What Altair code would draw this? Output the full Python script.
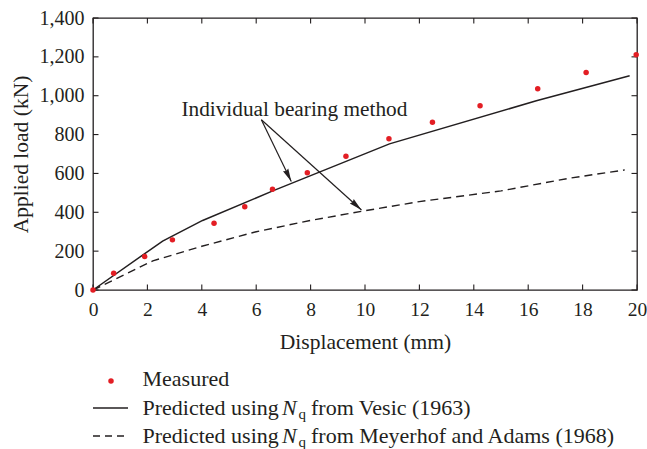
import math
import altair as alt
import pandas as pd

# ---------------- data ----------------
measured_x = [0, 0.76, 1.9, 2.92, 4.45, 5.58, 6.6, 7.88, 9.3, 10.88, 12.48, 14.23, 16.35, 18.13, 19.97]
measured_y = [0, 86, 172, 258, 344, 429, 519, 603, 689, 778, 864, 948, 1036, 1120, 1211]

vesic_x = [0, 2.56, 4.03, 6.61, 10.9, 16.3, 19.73]
vesic_y = [0, 252, 358, 510, 752, 974, 1103]

meyerhof_x = [0, 2.2, 4, 6, 8, 9.87, 12, 15, 17.5, 19.55]
meyerhof_y = [0, 150, 225, 300, 358, 405, 455, 510, 575, 618]

x_ticks = list(range(0, 21, 2))
y_ticks = list(range(0, 1401, 200))

annot_text = "Individual bearing method"
annot_pos = (3.25, 896)
arrow_start = (6.19, 876)
arrow_tips_x = [7.29, 9.87]
arrow_tips_y = [558, 412]

# ---------------- layout ----------------
W, H = 544, 272
FONT = "Liberation Serif"
INK = "#231f20"
RED = "#e31e24"

xs = alt.Scale(domain=[0, 20], nice=False, zero=False)
ys = alt.Scale(domain=[0, 1400], nice=False, zero=False)

df_meas = pd.DataFrame({"x": measured_x, "y": measured_y})
df_ves = pd.DataFrame({"x": vesic_x, "y": vesic_y})
df_mey = pd.DataFrame({"x": meyerhof_x, "y": meyerhof_y})

x_axis = alt.Axis(values=x_ticks, ticks=False, domain=False, grid=False, labelFlush=False,
                  labelOverlap=False, format="d",
                  labelFontSize=19.5, labelPadding=10, labelFont=FONT, labelColor=INK,
                  title="Displacement (mm)", titleFont=FONT, titleFontSize=21.5,
                  titleFontWeight="normal", titleColor=INK,
                  titleBaseline="alphabetic", titleY=58.5)
y_axis = alt.Axis(values=y_ticks, ticks=False, domain=False, grid=False, format=",.0f",
                  labelFlush=False, labelOverlap=False,
                  labelFontSize=20, labelPadding=9, labelFont=FONT, labelColor=INK,
                  title="Applied load (kN)", titleFont=FONT, titleFontSize=21.5,
                  titleFontWeight="normal", titleColor=INK,
                  titleBaseline="alphabetic", titleX=-66)


def X(field):
    return alt.X(field, scale=xs, axis=x_axis, title="Displacement (mm)")


def Y(field):
    return alt.Y(field, scale=ys, axis=y_axis, title="Applied load (kN)")


meas = alt.Chart(df_meas).mark_point(filled=True, color=RED, size=30, opacity=1, clip=False).encode(
    x=X("x:Q"), y=Y("y:Q"))

line_ves = alt.Chart(df_ves).mark_line(color=INK, strokeWidth=1.5).encode(
    x=X("x:Q"), y=Y("y:Q"))
line_mey = alt.Chart(df_mey).mark_line(color=INK, strokeWidth=1.4, strokeDash=[8, 5]).encode(
    x=X("x:Q"), y=Y("y:Q"))

# inward ticks
df_xt = pd.DataFrame({"x": x_ticks})
df_yt = pd.DataFrame({"y": y_ticks})
TL = 5.5
tick_b = alt.Chart(df_xt).mark_rule(color=INK, strokeWidth=1.1).encode(
    x=X("x:Q"), y=alt.value(H), y2=alt.value(H - TL))
tick_t = alt.Chart(df_xt).mark_rule(color=INK, strokeWidth=1.1).encode(
    x=X("x:Q"), y=alt.value(0), y2=alt.value(TL))
tick_l = alt.Chart(df_yt).mark_rule(color=INK, strokeWidth=1.1).encode(
    y=Y("y:Q"), x=alt.value(0), x2=alt.value(TL))
tick_r = alt.Chart(df_yt).mark_rule(color=INK, strokeWidth=1.1).encode(
    y=Y("y:Q"), x=alt.value(W), x2=alt.value(W - TL))

# annotation
df_ann = pd.DataFrame({"x": [annot_pos[0]], "y": [annot_pos[1]], "t": [annot_text]})
ann_text = alt.Chart(df_ann).mark_text(font=FONT, fontSize=21.3, color=INK, align="left",
                                       baseline="alphabetic").encode(
    x=X("x:Q"), y=Y("y:Q"), text="t:N")

px_x = W / 20.0
px_y = H / 1400.0
angles = []
for tx, ty in zip(arrow_tips_x, arrow_tips_y):
    dx = (tx - arrow_start[0]) * px_x
    dy = -(ty - arrow_start[1]) * px_y
    angles.append(math.degrees(math.atan2(dx, -dy)) % 360)
df_arr = pd.DataFrame({
    "x0": [arrow_start[0]] * len(arrow_tips_x),
    "y0": [arrow_start[1]] * len(arrow_tips_x),
    "x1": arrow_tips_x, "y1": arrow_tips_y, "ang": angles,
})
arr_lines = alt.Chart(df_arr).mark_rule(color=INK, strokeWidth=1.2).encode(
    x=X("x0:Q"), y=Y("y0:Q"), x2="x1:Q", y2="y1:Q")
arr_heads = alt.Chart(df_arr).mark_point(
    shape="M0,0L-0.45,2L0,1.8L0.45,2Z", filled=True, color=INK, size=169, opacity=1
).encode(
    x=X("x1:Q"), y=Y("y1:Q"),
    angle=alt.Angle("ang:Q", scale=None))

# legend (drawn below the plot area)
one = pd.DataFrame({"k": [0]})
LX = 49.5
R1, R2, R3 = 368, 396.5, 424.5
LFS = 22
leg = [
    alt.Chart(one).mark_point(filled=True, color=RED, size=30, opacity=1).encode(
        x=alt.value(18), y=alt.value(R1 - 5)),
    alt.Chart(one).mark_rule(color=INK, strokeWidth=1.4).encode(
        x=alt.value(0), x2=alt.value(35), y=alt.value(R2 - 6.5)),
    alt.Chart(one).mark_rule(color=INK, strokeWidth=1.4, strokeDash=[7, 5]).encode(
        x=alt.value(0), x2=alt.value(35), y=alt.value(R3 - 6.5)),
    alt.Chart(one).mark_text(text="Measured", font=FONT, fontSize=LFS, color=INK,
                             align="left", baseline="alphabetic").encode(
        x=alt.value(LX), y=alt.value(R1)),
]
tails = ["from Vesic (1963)", "from Meyerhof and Adams (1968)"]
for row, tail in zip([R2, R3], tails):
    leg += [
        alt.Chart(one).mark_text(text="Predicted using", font=FONT, fontSize=LFS, color=INK,
                                 align="left", baseline="alphabetic").encode(
            x=alt.value(LX), y=alt.value(row)),
        alt.Chart(one).mark_text(text="N", font=FONT, fontSize=LFS, fontStyle="italic", color=INK,
                                 align="left", baseline="alphabetic").encode(
            x=alt.value(189), y=alt.value(row)),
        alt.Chart(one).mark_text(text="q", font=FONT, fontSize=15, color=INK,
                                 align="left", baseline="alphabetic").encode(
            x=alt.value(205.5), y=alt.value(row + 4.5)),
        alt.Chart(one).mark_text(text=tail, font=FONT, fontSize=LFS, color=INK,
                                 align="left", baseline="alphabetic").encode(
            x=alt.value(218), y=alt.value(row)),
    ]

chart = alt.layer(
    tick_b, tick_t, tick_l, tick_r, line_mey, line_ves,
    arr_lines, arr_heads, ann_text, meas, *leg
).properties(
    width=W, height=H,
    autosize=alt.AutoSizeParams(type="none"),
    padding={"left": 93, "top": 18, "right": 10, "bottom": 159},
    background="white",
).configure_view(stroke=INK, strokeWidth=1.3)

chart.save("out.html", embed_options={"renderer": "svg", "actions": False})
